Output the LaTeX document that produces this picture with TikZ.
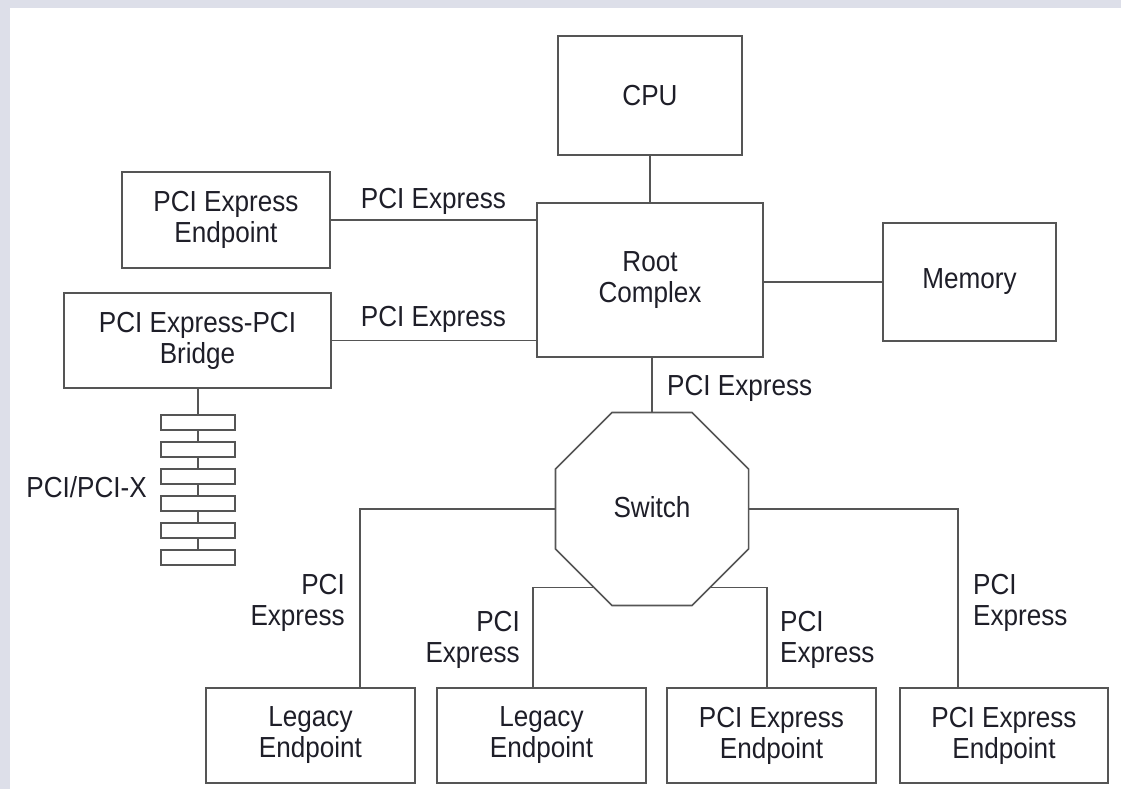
\documentclass[tikz,border=0pt]{standalone}
\usepackage{fontspec}
\setmainfont{Liberation Sans}[FakeStretch=0.9]
\usetikzlibrary{shapes.geometric}

\definecolor{edge}{RGB}{85,85,85}
\definecolor{ink}{RGB}{30,30,40}
\definecolor{frame}{RGB}{221,223,233}

\tikzset{
  x=1pt, y=-1pt,
  every node/.style={text=ink, font=\fontsize{29}{31}\selectfont},
  unit/.style={draw=edge, line width=1.6pt, fill=white, inner sep=0pt, align=center},
  link/.style={draw=edge, line width=1.5pt},
  slot/.style={draw=edge, line width=1.5pt, fill=white, minimum width=74pt, minimum height=15pt, inner sep=0pt},
  tag/.style={inner sep=0pt},
}

\begin{document}
\begin{tikzpicture}
  % page frame
  \fill[frame] (0,0) rectangle (1121,789);
  \fill[white] (10,8) rectangle (1121,789);
  \useasboundingbox (0,0) rectangle (1121,789);

  % upper blocks
  \node[unit, minimum width=184pt, minimum height=119pt] (cpu) at (650,95.5) {CPU};
  \node[unit, minimum width=226pt, minimum height=154pt] (rc)  at (650,280) {Root\\Complex};
  \node[unit, minimum width=173pt, minimum height=118pt] (mem) at (969.5,282) {Memory};
  \node[unit, minimum width=208pt, minimum height=96pt]  (ep)  at (226,220) {PCI Express\\Endpoint};
  \node[unit, minimum width=267pt, minimum height=95pt]  (br)  at (197.5,340.5) {PCI Express-PCI\\Bridge};

  % switch
  \node[draw=edge, line width=1.6pt, fill=white, regular polygon, regular polygon sides=8,
        minimum size=209pt, inner sep=0pt] (sw) at (652,509) {};
  \node[tag, anchor=base] (swl) at (652,517) {Switch};

  % lower endpoints
  \node[unit, minimum width=209pt, minimum height=95pt] (b1) at (310.5,735.5) {Legacy\\Endpoint};
  \node[unit, minimum width=209pt, minimum height=95pt] (b2) at (541.5,735.5) {Legacy\\Endpoint};
  \node[unit, minimum width=209pt, minimum height=95pt] (b3) at (771.5,735.5) {PCI Express\\Endpoint};
  \node[unit, minimum width=208pt, minimum height=95pt] (b4) at (1004,735.5) {PCI Express\\Endpoint};

  % PCI/PCI-X slot stack
  \foreach \i in {0,...,5}
    \node[slot] (s\i) at (198,422.5+27*\i) {};
  \node[tag, anchor=base east] (pcix) at (147,497) {PCI/PCI-X};

  % taps on the endpoint tops
  \coordinate (t1) at (360,688);
  \coordinate (t2) at (533,688);
  \coordinate (t3) at (767,688);
  \coordinate (t4) at (958,688);

  % connectors
  \draw[link] (cpu.south) -- (rc.north);
  \draw[link] (ep.east) -- (ep.east -| rc.west);
  \draw[link] (br.east) -- (br.east -| rc.west);
  \draw[link] (mem.west -| rc.east) -- (mem.west);
  \draw[link] (sw.north) -- (sw.north |- rc.south);
  \draw[link] (sw.west) -| (t1);
  \draw[link] (sw.east) -| (t4);
  \draw[link] (sw.233) -| (t2);
  \draw[link] (sw.-53) -| (t3);
  \draw[link] (br.south -| s0.north) -- (s0.north);
  \foreach \i [evaluate=\i as \j using int(\i+1)] in {0,...,4}
    \draw[link] (s\i.south) -- (s\j.north);

  % link labels (base = baseline of the last line)
  \node[tag, anchor=base] (l1) at (433.5,208) {PCI Express};
  \node[tag, anchor=base] (l2) at (433.5,326) {PCI Express};
  \node[tag, anchor=base west] (l3) at (667,395) {PCI Express};
  \node[tag, anchor=base east, align=right] (l4) at (345,625) {PCI\\Express};
  \node[tag, anchor=base east, align=right] (l5) at (520,662) {PCI\\Express};
  \node[tag, anchor=base west, align=left] (l6) at (780,662) {PCI\\Express};
  \node[tag, anchor=base west, align=left] (l7) at (973,625) {PCI\\Express};
\end{tikzpicture}
\end{document}
